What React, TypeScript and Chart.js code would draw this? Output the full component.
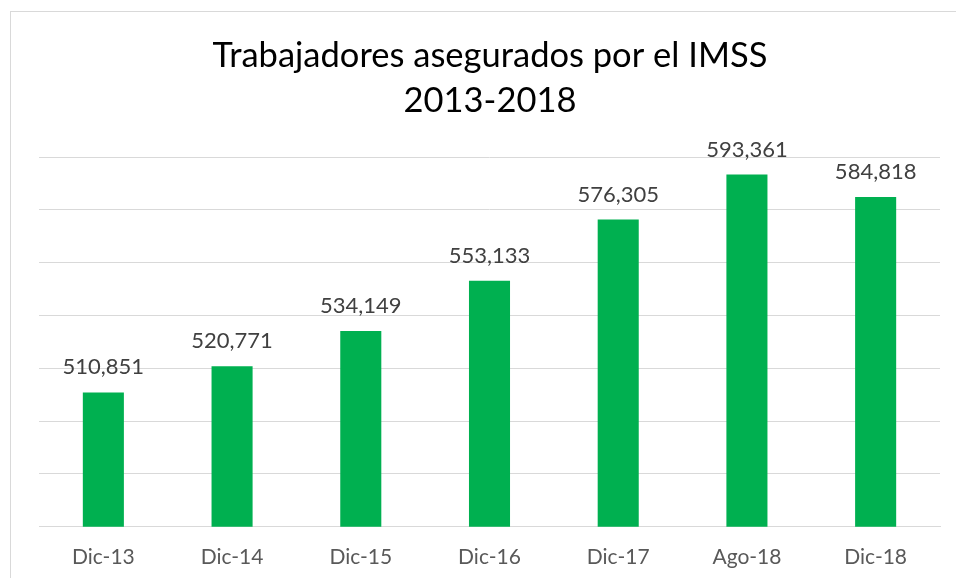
import React, { useEffect, useRef } from "react";
import { Chart, registerables } from "chart.js";

Chart.register(...registerables);

const categories = ["Dic-13", "Dic-14", "Dic-15", "Dic-16", "Dic-17", "Ago-18", "Dic-18"];
const workers = [510851, 520771, 534149, 553133, 576305, 593361, 584818];
const titleLines = ["Trabajadores asegurados por el IMSS", "2013-2018"];
const yMin = 460000;
const yMax = 600000;
const yStep = 20000;

const FONT = "Lato, 'Open Sans', sans-serif";

export default function App() {
  const ref = useRef<HTMLCanvasElement | null>(null);

  useEffect(() => {
    document.body.style.margin = "0";
    const canvas = ref.current;
    if (!canvas) return;

    const overlay = {
      id: "overlay",
      afterDatasetsDraw(chart: any) {
        const ctx = chart.ctx;
        ctx.save();
        // data labels
        const meta = chart.getDatasetMeta(0);
        ctx.font = `22px ${FONT}`;
        ctx.fillStyle = "#404040";
        ctx.textAlign = "center";
        ctx.textBaseline = "alphabetic";
        meta.data.forEach((bar: any, i: number) => {
          ctx.fillText(workers[i].toLocaleString("en-US"), bar.x, bar.y - 18);
        });
        // title
        ctx.font = `34.5px ${FONT}`;
        ctx.fillStyle = "#000000";
        ctx.fillText(titleLines[0], 490, 67);
        ctx.fillText(titleLines[1], 490, 112);
        ctx.restore();
      },
    };

    const chart = new Chart(canvas, {
      type: "bar",
      data: {
        labels: categories,
        datasets: [
          {
            data: workers,
            backgroundColor: "#00B050",
            borderWidth: 0,
            barPercentage: 0.319,
            categoryPercentage: 1,
          },
        ],
      },
      options: {
        animation: false,
        responsive: false,
        devicePixelRatio: 1,
        layout: { padding: { top: 157, left: 39, right: 16, bottom: -10 } },
        plugins: {
          legend: { display: false },
          title: { display: false },
          tooltip: { enabled: false },
        },
        scales: {
          x: {
            grid: { display: false, drawTicks: false, tickLength: 0 },
            border: { display: true, color: "#d9d9d9", width: 1 },
            ticks: {
              color: "#595959",
              font: { family: FONT, size: 21 },
              padding: 18,
              maxRotation: 0,
            },
          },
          y: {
            min: yMin,
            max: yMax,
            grid: { color: "#d9d9d9", drawTicks: false, tickLength: 0 },
            border: { display: false },
            ticks: { display: false, stepSize: yStep },
          },
        },
      },
      plugins: [overlay],
    });
    return () => chart.destroy();
  }, []);

  return (
    <div style={{ position: "relative", width: 956, height: 578, overflow: "hidden", background: "#fff" }}>
      <div
        style={{
          position: "absolute",
          left: 10,
          top: 11,
          width: 1000,
          height: 700,
          borderTop: "1px solid #d9d9d9",
          borderLeft: "1px solid #d9d9d9",
        }}
      />
      <canvas ref={ref} width={956} height={578} style={{ position: "absolute", left: 0, top: 0 }} />
    </div>
  );
}
